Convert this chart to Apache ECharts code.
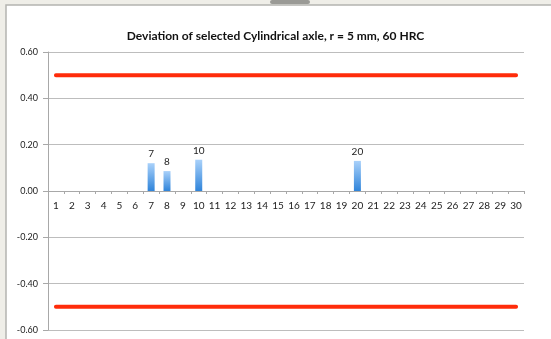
<!DOCTYPE html>
<html><head><meta charset="utf-8">
<script src="https://cdn.jsdelivr.net/npm/echarts@6/dist/echarts.min.js"></script>
<style>html,body{margin:0;padding:0;background:#efeee8;}#c{width:551px;height:339px;}</style>
</head><body><div id="c"></div>
<script>
const categories = ['1','2','3','4','5','6','7','8','9','10','11','12','13','14','15','16','17','18','19','20','21','22','23','24','25','26','27','28','29','30'];
const deviation = [null,null,null,null,null,null,0.12,0.086,null,0.135,null,null,null,null,null,null,null,null,null,0.13,null,null,null,null,null,null,null,null,null,null];
const upperLimit = categories.map(() => 0.5);
const lowerLimit = categories.map(() => -0.5);
const yTicks = { min: -0.6, max: 0.6, interval: 0.2 };
const titleText = 'Deviation of selected Cylindrical axle, r = 5 mm, 60 HRC';

const gridTop = 52, gridBottom = 9, H = 339;
const zeroOffset = (H - gridTop - gridBottom) * (0 - yTicks.min) / (yTicks.max - yTicks.min);

const chart = echarts.init(document.getElementById('c'), null, {renderer:'canvas'});
chart.setOption({
  animation: false,
  backgroundColor: 'transparent',
  graphic: [
    { type: 'rect', shape: { x: 6, y: 5, width: 560, height: 350 }, style: { fill: '#ffffff', stroke: '#b4b4b0', lineWidth: 1.5 }, z: -10 },
    { type: 'rect', shape: { x: 270, y: 0, width: 40, height: 4, r: 2 }, style: { fill: '#9a9a96' }, z: -9 }
  ],
  title: {
    text: titleText, left: 'center', top: 25,
    textStyle: { fontFamily: 'Lato', fontSize: 12, fontWeight: 'bold', color: '#111' }
  },
  grid: { left: 48, right: 27, top: gridTop, bottom: gridBottom, containLabel: false, outerBoundsMode: 'none' },
  xAxis: {
    type: 'category', data: categories, boundaryGap: true, position: 'bottom',
    offset: -zeroOffset,
    axisLine: { onZero: false, lineStyle: { color: '#a8a8a8', width: 1 } },
    axisTick: { show: true, inside: false, length: 3, alignWithLabel: false, lineStyle: { color: '#a8a8a8' } },
    axisLabel: { margin: 10, fontFamily: 'Lato', fontSize: 10, color: '#222', interval: 0 },
    splitLine: { show: false }
  },
  yAxis: {
    type: 'value', min: yTicks.min, max: yTicks.max, interval: yTicks.interval,
    axisLine: { show: true, lineStyle: { color: '#a8a8a8', width: 1 } },
    axisTick: { show: true, length: 5, lineStyle: { color: '#a8a8a8' } },
    axisLabel: { margin: 10, fontFamily: 'Lato', fontSize: 9, color: '#222', formatter: v => v.toFixed(2) },
    splitLine: { show: true, lineStyle: { color: '#bdbdbd', width: 1 } }
  },
  series: [
    {
      type: 'bar', data: deviation, barWidth: 7,
      itemStyle: {
        color: new echarts.graphic.LinearGradient(0, 0, 0, 1, [
          { offset: 0, color: '#a9d1fa' }, { offset: 1, color: '#2f84da' }
        ])
      },
      label: {
        show: true, position: 'top', distance: 4,
        fontFamily: 'Lato', fontSize: 10, color: '#222',
        formatter: p => p.name
      },
      z: 3
    },
    {
      type: 'line', data: upperLimit, symbol: 'none',
      lineStyle: { color: '#ff2c0a', width: 4, cap: 'round' }, z: 4
    },
    {
      type: 'line', data: lowerLimit, symbol: 'none',
      lineStyle: { color: '#ff2c0a', width: 4, cap: 'round' }, z: 4
    }
  ]
});
</script></body></html>
